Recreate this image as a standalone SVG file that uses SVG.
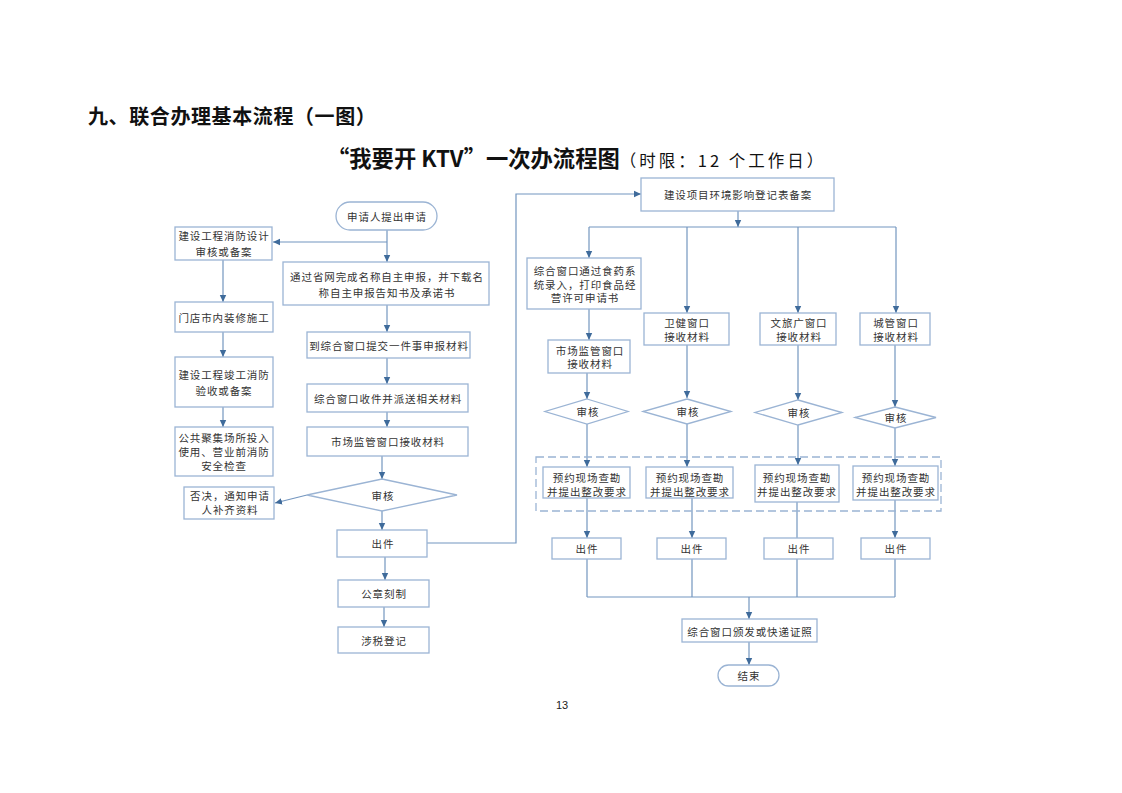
<svg xmlns="http://www.w3.org/2000/svg" width="1122" height="793" viewBox="0 0 1122 793">
<defs>
<marker id="ah" markerUnits="userSpaceOnUse" markerWidth="8" markerHeight="8" viewBox="0 0 8 8" refX="7" refY="4" orient="auto">
<path d="M0,0.8 L7,4 L0,7.2 Z" fill="#3f6b9b"/>
</marker>
<style>
.b{fill:#fff;stroke:#9bb4d4;stroke-width:1.3}
.c{fill:none;stroke:#7396bf;stroke-width:1.2}
.a{marker-end:url(#ah)}
.t{font-family:"Noto Sans CJK SC","Noto Sans",sans-serif;font-size:10.5px;fill:#333;text-anchor:middle;dominant-baseline:central;letter-spacing:0.9px}
.d{fill:none;stroke:#9bb4d4;stroke-width:1.3;stroke-dasharray:8 4}
</style>
</defs>
<rect width="1122" height="793" fill="#fff"/>
<text x="88" y="124" style="font-family:'Noto Sans CJK SC',sans-serif;font-size:20px;font-weight:bold;fill:#111;letter-spacing:0.6px">九、联合办理基本流程（一图）</text>
<text x="327" y="167" style="font-family:'Noto Sans CJK SC',sans-serif;font-size:22.3px;font-weight:bold;fill:#111">“我要开 KTV”一次办流程图<tspan style="font-size:16.5px;font-weight:normal;letter-spacing:3px" dx="0">（时限：12 个工作日）</tspan></text>
<text x="562" y="709" style="font-family:'Liberation Sans',sans-serif;font-size:11px;fill:#222;text-anchor:middle">13</text>

<g id="connectors">
<path class="c a" d="M387,230 V262"/>
<path class="c a" d="M387,242 H273"/>
<path class="c a" d="M387,305 V332"/>
<path class="c a" d="M387,358 V384"/>
<path class="c a" d="M387,412 V427"/>
<path class="c a" d="M382,456 V479"/>
<path class="c a" d="M307,495 L275,503"/>
<path class="c a" d="M382,511 V530"/>
<path class="c a" d="M385,557 V580"/>
<path class="c a" d="M384,607 V627"/>
<path class="c a" d="M427,543 H516 V194 H641"/>
<path class="c a" d="M223,260 V302"/>
<path class="c a" d="M223,332 V357"/>
<path class="c a" d="M223,407 V427"/>
<path class="c a" d="M738,211 V227"/>
<path class="c" d="M589,227 H896"/>
<path class="c a" d="M589,227 V258"/>
<path class="c a" d="M687,227 V313"/>
<path class="c a" d="M798,227 V313"/>
<path class="c a" d="M896,227 V313"/>
<path class="c a" d="M589,309 V340"/>
<path class="c a" d="M587,373 V399"/>
<path class="c a" d="M687,345 V398"/>
<path class="c a" d="M798,345 V400"/>
<path class="c a" d="M895,345 V407"/>
<path class="c a" d="M587,424 V467"/>
<path class="c a" d="M687,424 V467"/>
<path class="c a" d="M798,425 V465"/>
<path class="c a" d="M895,428 V466"/>
<path class="c a" d="M587,498 V538"/>
<path class="c a" d="M692,498 V538"/>
<path class="c" d="M797,502 V538"/>
<path class="c a" d="M895,500 V538"/>
<path class="c" d="M587,559 V597 M692,559 V597 M797,559 V597 M895,559 V597 M587,597 H895"/>
<path class="c a" d="M749,597 V619"/>
<path class="c a" d="M749,642 V665"/>
</g>

<rect class="d" x="536" y="457" width="405" height="54"/>

<g id="n_start"><rect class="b" x="336" y="202" width="101" height="28" rx="14"/><text class="t" x="387" y="216">申请人提出申请</text></g>
<g id="n_fire_design"><rect class="b" x="175" y="227" width="97" height="33"/><text class="t" x="224" y="235">建设工程消防设计</text><text class="t" x="224" y="251">审核或备案</text></g>
<g id="n_name"><rect class="b" x="283" y="262" width="206" height="43"/><text class="t" x="387" y="276">通过省网完成名称自主申报，并下载名</text><text class="t" x="387" y="292">称自主申报告知书及承诺书</text></g>
<g id="n_decor"><rect class="b" x="175" y="302" width="98" height="30"/><text class="t" x="224" y="317">门店市内装修施工</text></g>
<g id="n_submit"><rect class="b" x="307" y="332" width="163" height="26"/><text class="t" x="389" y="345">到综合窗口提交一件事申报材料</text></g>
<g id="n_fire_accept"><rect class="b" x="175" y="357" width="98" height="50"/><text class="t" x="224" y="374">建设工程竣工消防</text><text class="t" x="224" y="390">验收或备案</text></g>
<g id="n_receive"><rect class="b" x="307" y="384" width="161" height="28"/><text class="t" x="388" y="398">综合窗口收件并派送相关材料</text></g>
<g id="n_market"><rect class="b" x="307" y="427" width="161" height="29"/><text class="t" x="388" y="441">市场监管窗口接收材料</text></g>
<g id="n_safety"><rect class="b" x="175" y="427" width="98" height="49"/><text class="t" x="224" y="437">公共聚集场所投入</text><text class="t" x="224" y="451">使用、营业前消防</text><text class="t" x="224" y="465">安全检查</text></g>
<g id="n_review"><path class="b" d="M382,479 L457,495 L382,511 L307,495 Z"/><text class="t" x="383" y="495">审核</text></g>
<g id="n_reject"><rect class="b" x="184" y="487" width="90" height="32"/><text class="t" x="230" y="495">否决，通知申请</text><text class="t" x="230" y="509">人补齐资料</text></g>
<g id="n_issue"><rect class="b" x="337" y="530" width="90" height="27"/><text class="t" x="383" y="543">出件</text></g>
<g id="n_seal"><rect class="b" x="338" y="580" width="91" height="27"/><text class="t" x="384" y="593">公章刻制</text></g>
<g id="n_tax"><rect class="b" x="338" y="627" width="91" height="26"/><text class="t" x="384" y="640">涉税登记</text></g>

<g id="n_env"><rect class="b" x="641" y="178" width="193" height="33"/><text class="t" x="738" y="194">建设项目环境影响登记表备案</text></g>
<g id="n_food"><rect class="b" x="527" y="258" width="114" height="51"/><text class="t" x="585" y="270">综合窗口通过食药系</text><text class="t" x="585" y="284">统录入，打印食品经</text><text class="t" x="585" y="297">营许可申请书</text></g>
<g id="n_health"><rect class="b" x="644" y="313" width="85" height="32"/><text class="t" x="687" y="322">卫健窗口</text><text class="t" x="687" y="336">接收材料</text></g>
<g id="n_culture"><rect class="b" x="760" y="313" width="76" height="32"/><text class="t" x="799" y="322">文旅广窗口</text><text class="t" x="799" y="336">接收材料</text></g>
<g id="n_city"><rect class="b" x="860" y="313" width="70" height="32"/><text class="t" x="896" y="322">城管窗口</text><text class="t" x="896" y="336">接收材料</text></g>
<g id="n_market2"><rect class="b" x="548" y="340" width="82" height="33"/><text class="t" x="590" y="350">市场监管窗口</text><text class="t" x="590" y="363">接收材料</text></g>
<g id="n_rv1"><path class="b" d="M587,399 L628,411.5 L587,424 L545,411.5 Z"/><text class="t" x="588" y="411">审核</text></g>
<g id="n_rv2"><path class="b" d="M687,399 L731,411.5 L687,424 L643,411.5 Z"/><text class="t" x="688" y="411">审核</text></g>
<g id="n_rv3"><path class="b" d="M798,400 L842,412.5 L798,425 L755,412.5 Z"/><text class="t" x="799" y="412">审核</text></g>
<g id="n_rv4"><path class="b" d="M895,407 L936,417.5 L895,428 L855,417.5 Z"/><text class="t" x="896" y="417">审核</text></g>
<g id="n_site1"><rect class="b" x="543" y="467" width="87" height="31"/><text class="t" x="587" y="477">预约现场查勘</text><text class="t" x="587" y="491">并提出整改要求</text></g>
<g id="n_site2"><rect class="b" x="646" y="467" width="87" height="31"/><text class="t" x="690" y="477">预约现场查勘</text><text class="t" x="690" y="491">并提出整改要求</text></g>
<g id="n_site3"><rect class="b" x="755" y="465" width="84" height="37"/><text class="t" x="797" y="477">预约现场查勘</text><text class="t" x="797" y="491">并提出整改要求</text></g>
<g id="n_site4"><rect class="b" x="853" y="466" width="85" height="34"/><text class="t" x="896" y="477">预约现场查勘</text><text class="t" x="896" y="491">并提出整改要求</text></g>
<g id="n_out1"><rect class="b" x="552" y="538" width="69" height="21"/><text class="t" x="587" y="548">出件</text></g>
<g id="n_out2"><rect class="b" x="657" y="538" width="69" height="21"/><text class="t" x="692" y="548">出件</text></g>
<g id="n_out3"><rect class="b" x="764" y="538" width="69" height="21"/><text class="t" x="799" y="548">出件</text></g>
<g id="n_out4"><rect class="b" x="861" y="538" width="69" height="21"/><text class="t" x="896" y="548">出件</text></g>
<g id="n_deliver"><rect class="b" x="682" y="619" width="135" height="23"/><text class="t" x="750" y="631">综合窗口颁发或快递证照</text></g>
<g id="n_end"><rect class="b" x="718" y="665" width="61" height="21" rx="10.5"/><text class="t" x="749" y="675">结束</text></g>
</svg>
